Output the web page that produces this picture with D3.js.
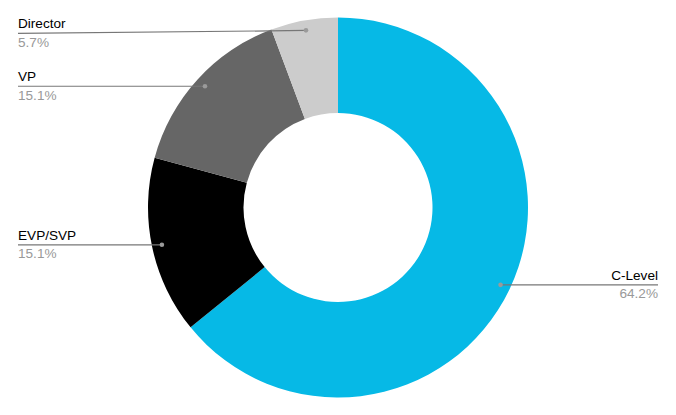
<!DOCTYPE html>
<html>
<head>
<meta charset="utf-8">
<script src="https://cdn.jsdelivr.net/npm/d3@7"></script>
<style>
	html, body { margin: 0; padding: 0; background: #fff; }
	svg { display: block; font-family: Arial, "Liberation Sans", sans-serif; }
</style>
</head>
<body>
<div id="chart"></div>
<script>
// chart data, clockwise from 12 o'clock
const categories = ['C-Level', 'EVP/SVP', 'VP', 'Director'];
const values = [64.2, 15.1, 15.1, 5.7];
const colors = ['#06b9e6', '#000000', '#666666', '#cccccc'];
// where each label sits (left or right side of the chart)
const labelSide = ['right', 'left', 'left', 'left'];

const W = 676,
	H = 415,
	cx = 338,
	cy = 207.5,
	outerR = 190,
	innerR = 94.5,
	dotR = 180,
	leftX = 18,
	rightX = 658,
	fontSize = 13.6;

let svg = d3.select('#chart').append('svg')
	.attr('width', W)
	.attr('height', H);

let data = categories.map((c, i) => ({ name: c, value: values[i], color: colors[i], side: labelSide[i] }));

let pie = d3.pie()
	.sort(null)
	.value(d => d.value);

let arc = d3.arc()
	.innerRadius(innerR)
	.outerRadius(outerR);

let dotArc = d3.arc()
	.innerRadius(dotR)
	.outerRadius(dotR);

let arcs = pie(data);

let g = svg.append('g')
	.attr('transform', 'translate(' + cx + ',' + cy + ')');

g.selectAll('path.slice')
	.data(arcs)
	.enter().append('path')
	.attr('class', 'slice')
	.attr('d', arc)
	.attr('fill', d => d.data.color);

// leader lines and labels
let labels = svg.append('g').attr('class', 'labels');

arcs.forEach(a => {
	let c = dotArc.centroid(a),
		px = cx + c[0],
		py = cy + c[1],
		endX = a.data.side === 'left' ? leftX : rightX,
		// the top label's line drops a little on its way out
		endY = py < 40 ? py + 3 : py,
		pts = py < 40 ? [[px, py], [px - 36, py + 0.5], [endX, endY]] : [[px, py], [endX, endY]];

	labels.append('path')
		.attr('d', d3.line()(pts))
		.attr('fill', 'none')
		.attr('stroke', '#777')
		.attr('stroke-width', 1.2);

	labels.append('circle')
		.attr('cx', px)
		.attr('cy', py)
		.attr('r', 2.3)
		.attr('fill', '#9a9a9a');

	let anchor = a.data.side === 'left' ? 'start' : 'end';

	labels.append('text')
		.attr('x', endX)
		.attr('y', endY - 5)
		.attr('text-anchor', anchor)
		.attr('font-size', fontSize)
		.attr('fill', '#000')
		.text(a.data.name);

	labels.append('text')
		.attr('x', endX)
		.attr('y', endY + 13.5)
		.attr('text-anchor', anchor)
		.attr('font-size', fontSize)
		.attr('fill', '#999')
		.text(d3.format('.1f')(a.data.value) + '%');
});
</script>
</body>
</html>
